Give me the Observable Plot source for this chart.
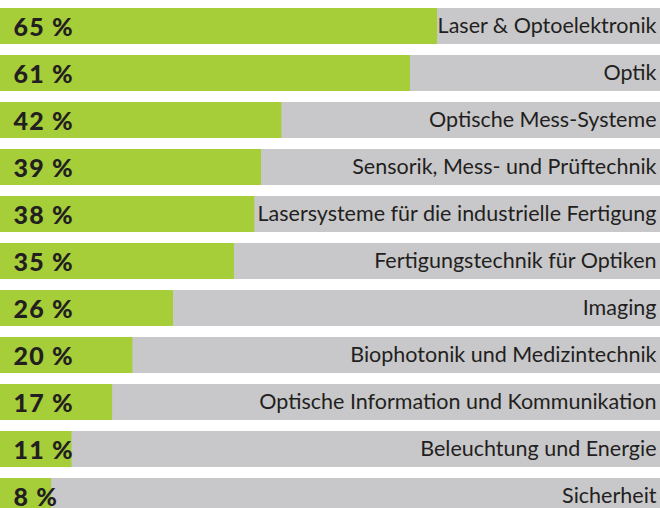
<!DOCTYPE html>
<html>
<head>
<meta charset="utf-8">
<script src="https://cdn.jsdelivr.net/npm/d3@7"></script>
<script src="https://cdn.jsdelivr.net/npm/@observablehq/plot@0.6"></script>
<style>
  html, body { margin: 0; padding: 0; background: #fff; overflow: hidden; }
  #chart svg { display: block; }
</style>
</head>
<body>
<div id="chart"></div>
<script>
const categories = [
  "Laser & Optoelektronik",
  "Optik",
  "Optische Mess-Systeme",
  "Sensorik, Mess- und Prüftechnik",
  "Lasersysteme für die industrielle Fertigung",
  "Fertigungstechnik für Optiken",
  "Imaging",
  "Biophotonik und Medizintechnik",
  "Optische Information und Kommunikation",
  "Beleuchtung und Energie",
  "Sicherheit"
];
const values = [65, 61, 42, 39, 38, 35, 26, 20, 17, 11, 8];
const maxValue = 100;

const data = categories.map((c, i) => ({category: c, value: values[i], full: maxValue}));

const width = 660, height = 508;
const step = 47.4;

const chart = Plot.plot({
  width, height,
  marginTop: 0, marginBottom: 0, marginLeft: 0, marginRight: 0,
  style: {background: "#ffffff", overflow: "hidden"},
  x: {domain: [0, maxValue], range: [-3, 674], axis: null},
  y: {domain: categories, range: [6, 6 + 11 * step - 0.24 * step], paddingInner: 0.24, paddingOuter: 0, axis: null},
  marks: [
    Plot.barX(data, {y: "category", x1: 0, x2: "full", fill: "#c8c8ca", clip: true}),
    Plot.barX(data, {y: "category", x1: 0, x2: "value", fill: "#a6ce39", clip: true}),
    Plot.text(data, {
      y: "category", x: 0, dx: 16, dy: 1, text: d => d.value + " %",
      textAnchor: "start", fontWeight: 900, fontSize: 25,
      fontFamily: "Lato, 'DejaVu Sans', sans-serif", fill: "#231f20"
    }),
    Plot.text(data, {
      y: "category", frameAnchor: "right", dx: -4,
      text: "category", textAnchor: "end", fontSize: 21.5,
      fontFamily: "Lato, 'DejaVu Sans', sans-serif", fill: "#231f20"
    })
  ]
});
d3.select(chart).selectAll("text")
  .filter(function() { return /%$/.test(this.textContent); })
  .style("letter-spacing", "1.2px");
document.getElementById("chart").appendChild(chart);
</script>
</body>
</html>
